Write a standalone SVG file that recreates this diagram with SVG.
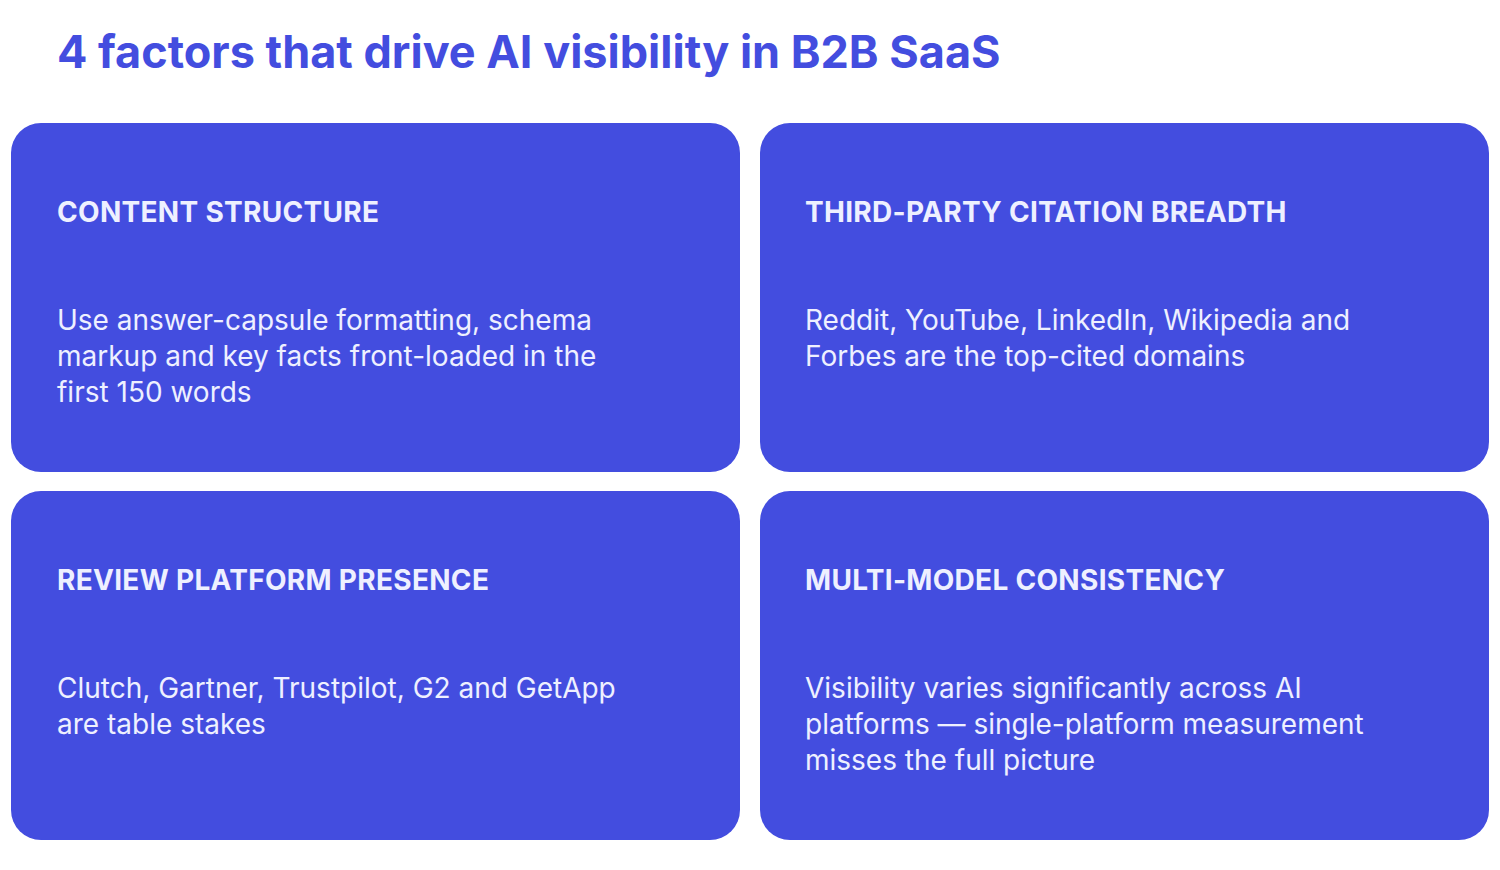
<svg xmlns="http://www.w3.org/2000/svg" width="1500" height="870" viewBox="0 0 1500 870">
<style>
.card{fill:#434ddf}
.t{font-family:Inter,"Liberation Sans",sans-serif}
.h{font-size:28px;font-weight:700;fill:#eef0ff;letter-spacing:0.3px}
.b{font-size:28px;fill:#eef0ff}
</style>
<rect width="1500" height="870" fill="#ffffff"/>
<text class="t" x="57" y="68" font-size="45" font-weight="700" fill="#434ddf">4 factors that drive AI visibility in B2B SaaS</text>
<g id="n1"><rect class="card" x="11" y="123" width="729" height="349" rx="30"/>
<text class="t h" x="57" y="222">CONTENT STRUCTURE</text>
<text class="t b" x="57" y="330">Use answer-capsule formatting, schema</text>
<text class="t b" x="57" y="366">markup and key facts front-loaded in the</text>
<text class="t b" x="57" y="402">first 150 words</text></g>
<g id="n2"><rect class="card" x="760" y="123" width="729" height="349" rx="30"/>
<text class="t h" x="805" y="222">THIRD-PARTY CITATION BREADTH</text>
<text class="t b" x="805" y="330">Reddit, YouTube, LinkedIn, Wikipedia and</text>
<text class="t b" x="805" y="366">Forbes are the top-cited domains</text></g>
<g id="n3"><rect class="card" x="11" y="491" width="729" height="349" rx="30"/>
<text class="t h" x="57" y="590">REVIEW PLATFORM PRESENCE</text>
<text class="t b" x="57" y="698">Clutch, Gartner, Trustpilot, G2 and GetApp</text>
<text class="t b" x="57" y="734">are table stakes</text></g>
<g id="n4"><rect class="card" x="760" y="491" width="729" height="349" rx="30"/>
<text class="t h" x="805" y="590">MULTI-MODEL CONSISTENCY</text>
<text class="t b" x="805" y="698">Visibility varies significantly across AI</text>
<text class="t b" x="805" y="734">platforms — single-platform measurement</text>
<text class="t b" x="805" y="770">misses the full picture</text></g>
<g id="connectors"/>
</svg>
